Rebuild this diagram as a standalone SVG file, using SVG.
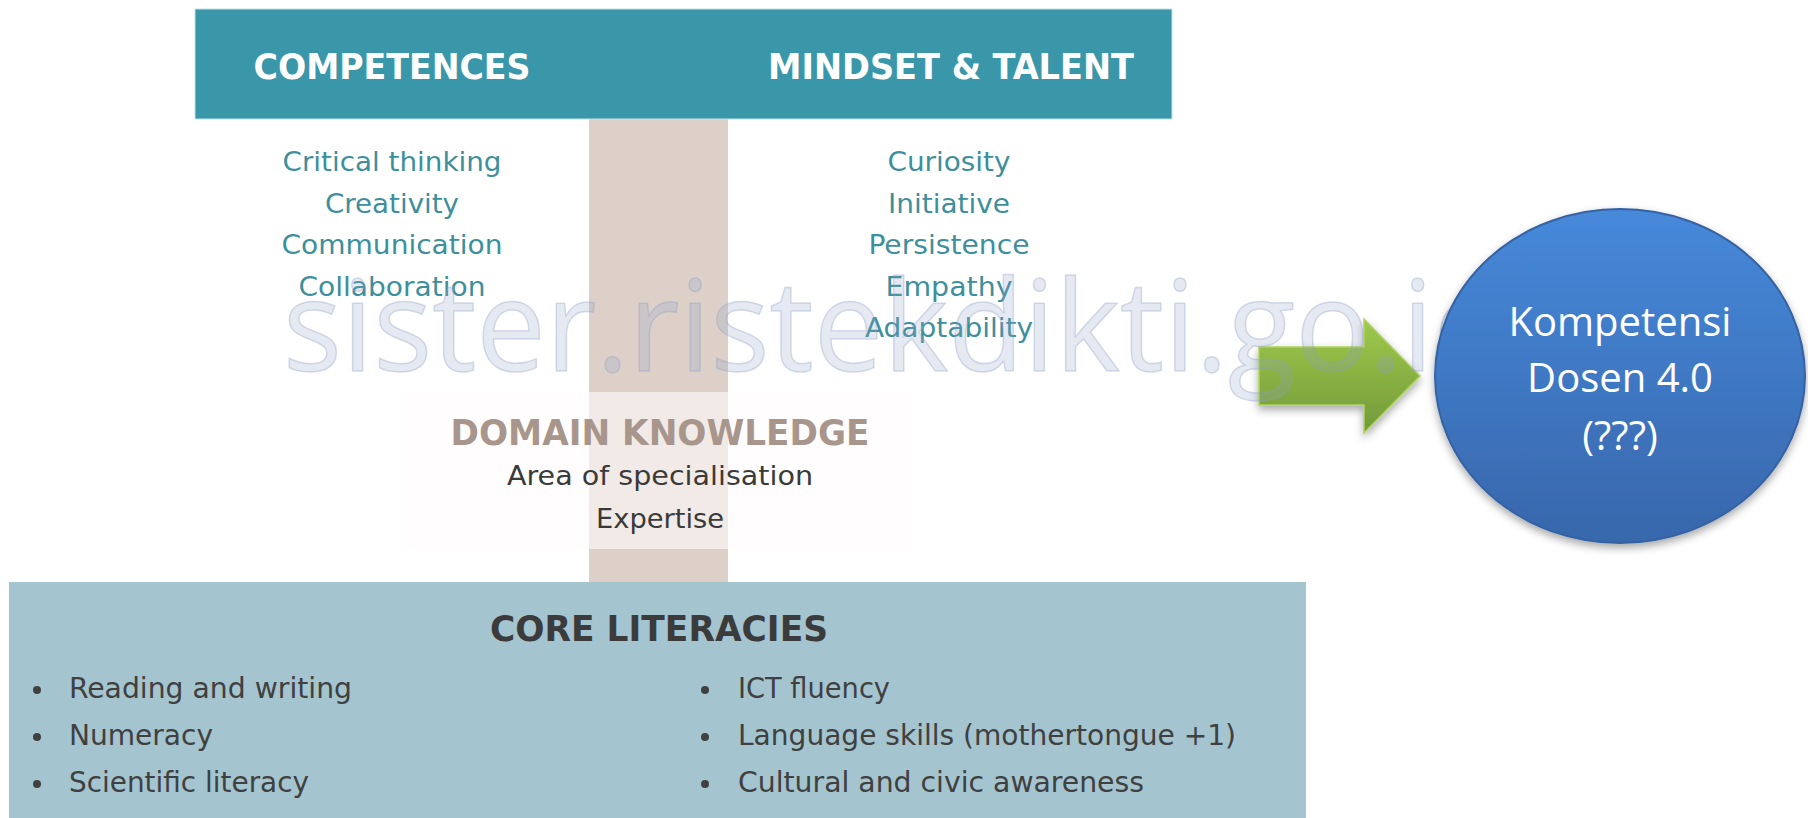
<svg xmlns="http://www.w3.org/2000/svg" width="1808" height="818" viewBox="0 0 1808 818">
<defs>
<style>
.hdr{font-family:"DejaVu Sans Condensed","DejaVu Sans",sans-serif;font-weight:bold;font-size:35px;fill:#ffffff;text-anchor:middle}
.teal{font-family:"DejaVu Sans Condensed","DejaVu Sans",sans-serif;font-size:27px;fill:#3d8f9b;text-anchor:middle}
.dk{font-family:"DejaVu Sans Condensed","DejaVu Sans",sans-serif;font-size:27px;fill:#3a3a3a;text-anchor:middle}
.dkh{font-family:"DejaVu Sans Condensed","DejaVu Sans",sans-serif;font-weight:bold;font-size:35px;fill:#a8968c;text-anchor:middle}
.coreh{font-family:"DejaVu Sans Condensed","DejaVu Sans",sans-serif;font-weight:bold;font-size:35px;fill:#3b3b3b;text-anchor:middle}
.bul{font-family:"DejaVu Sans Condensed","DejaVu Sans",sans-serif;font-size:28px;fill:#404040}
.circ{font-family:"Open Sans","Noto Sans",sans-serif;font-size:40px;fill:#ffffff;text-anchor:middle}
.wm{font-family:"Open Sans","Noto Sans",sans-serif;font-size:127px;fill:#8e9fc6;fill-opacity:0.23;stroke:#8e9fc6;stroke-opacity:0.35;stroke-width:1.5}
</style>
<linearGradient id="gBlue" x1="0" y1="0" x2="0" y2="1">
<stop offset="0" stop-color="#4689da"/>
<stop offset="1" stop-color="#3867ac"/>
</linearGradient>
<linearGradient id="gGreen" x1="0" y1="0" x2="0" y2="1">
<stop offset="0" stop-color="#9fca4b"/>
<stop offset="1" stop-color="#72993a"/>
</linearGradient>
<filter id="shadow" x="-20%" y="-20%" width="140%" height="140%">
<feDropShadow dx="0" dy="4" stdDeviation="4" flood-color="#000000" flood-opacity="0.35"/>
</filter>
</defs>

<g id="pillar">
<rect x="589" y="119" width="139" height="463" fill="#dcd0c9"/>
</g>

<g id="header">
<rect x="195" y="9" width="977" height="110" fill="#3a97a9" stroke="#bfe3ea" stroke-width="1"/>
<text class="hdr" x="392" y="79" textLength="277" lengthAdjust="spacingAndGlyphs">COMPETENCES</text>
<text class="hdr" x="951" y="79" textLength="366" lengthAdjust="spacingAndGlyphs">MINDSET &amp; TALENT</text>
</g>

<g id="competences">
<text class="teal" x="392" y="171" textLength="219" lengthAdjust="spacingAndGlyphs">Critical thinking</text>
<text class="teal" x="392" y="213" textLength="134" lengthAdjust="spacingAndGlyphs">Creativity</text>
<text class="teal" x="392" y="254" textLength="221" lengthAdjust="spacingAndGlyphs">Communication</text>
<text class="teal" x="392" y="296" textLength="187" lengthAdjust="spacingAndGlyphs">Collaboration</text>
</g>

<g id="mindset">
<text class="teal" x="949" y="171" textLength="123" lengthAdjust="spacingAndGlyphs">Curiosity</text>
<text class="teal" x="949" y="213" textLength="122" lengthAdjust="spacingAndGlyphs">Initiative</text>
<text class="teal" x="949" y="254" textLength="161" lengthAdjust="spacingAndGlyphs">Persistence</text>
<text class="teal" x="949" y="296" textLength="127" lengthAdjust="spacingAndGlyphs">Empathy</text>
<text class="teal" x="949" y="337" textLength="168" lengthAdjust="spacingAndGlyphs">Adaptability</text>
</g>

<g id="domain">
<rect x="406" y="392" width="505" height="157" fill="#fffcfb" fill-opacity="0.6"/>
<text class="dkh" x="660" y="445" textLength="419" lengthAdjust="spacingAndGlyphs">DOMAIN KNOWLEDGE</text>
<text class="dk" x="660" y="485" textLength="306" lengthAdjust="spacingAndGlyphs">Area of specialisation</text>
<text class="dk" x="660" y="528" textLength="128" lengthAdjust="spacingAndGlyphs">Expertise</text>
</g>

<g id="core">
<rect x="9" y="582" width="1297" height="236" fill="#a4c5d0"/>
<text class="coreh" x="659" y="641" textLength="338" lengthAdjust="spacingAndGlyphs">CORE LITERACIES</text>
<g fill="#404040">
<circle cx="37" cy="690" r="4"/>
<circle cx="37" cy="737" r="4"/>
<circle cx="37" cy="784" r="4"/>
<circle cx="705" cy="690" r="4"/>
<circle cx="705" cy="737" r="4"/>
<circle cx="705" cy="784" r="4"/>
</g>
<text class="bul" x="69" y="698" textLength="283" lengthAdjust="spacingAndGlyphs">Reading and writing</text>
<text class="bul" x="69" y="745" textLength="144" lengthAdjust="spacingAndGlyphs">Numeracy</text>
<text class="bul" x="69" y="792" textLength="240" lengthAdjust="spacingAndGlyphs">Scientific literacy</text>
<text class="bul" x="738" y="698" textLength="152" lengthAdjust="spacingAndGlyphs">ICT fluency</text>
<text class="bul" x="738" y="745" textLength="498" lengthAdjust="spacingAndGlyphs">Language skills (mothertongue +1)</text>
<text class="bul" x="738" y="792" textLength="406" lengthAdjust="spacingAndGlyphs">Cultural and civic awareness</text>
</g>

<g id="connectors">
<path d="M1259,347 L1364,347 L1364,319 L1420,376 L1364,433 L1364,405 L1259,405 Z" fill="url(#gGreen)" stroke="#aed35e" stroke-width="1.5" filter="url(#shadow)"/>
</g>

<g id="watermark">
<text class="wm" x="283" y="371" textLength="1226" lengthAdjust="spacingAndGlyphs">sister.ristekdikti.go.id</text>
</g>

<g id="kompetensi">
<ellipse cx="1620" cy="376" rx="185" ry="167" fill="url(#gBlue)" stroke="#3562a3" stroke-width="2" filter="url(#shadow)"/>
<text class="circ" x="1620" y="336">Kompetensi</text>
<text class="circ" x="1620" y="392">Dosen 4.0</text>
<text class="circ" x="1620" y="450">(???)</text>
</g>
</svg>
